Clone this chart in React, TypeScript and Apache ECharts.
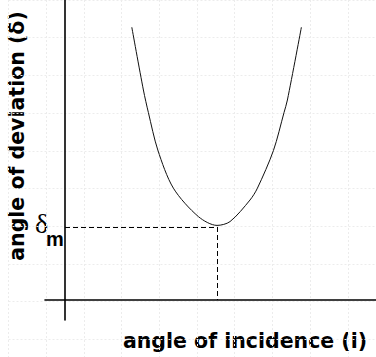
import React, { useEffect, useRef } from "react";
import * as echarts from "echarts";

// angle of incidence (arbitrary units) and deviation values
const incidence = [33.4, 39.2, 41.7, 46.4, 54.2, 66.7, 76, 82.5, 92.5, 96.2, 104.2, 109.5, 111.2, 118.2];
const deviation = [136.4, 105, 93.7, 75, 55.9, 41.7, 37.3, 39.2, 50, 55.9, 74.7, 93.7, 100, 136.4];
const minIncidence = [76.2];
const minDeviation = [36.5];
const xTitle = "angle of incidence (i)";
const yTitle = "angle of deviation (δ)";
const minSymbol = "δ";
const minSub = "m";

export default function App() {
  const ref = useRef<HTMLDivElement>(null);
  useEffect(() => {
    if (!ref.current) return;
    const chart = echarts.init(ref.current, null, { renderer: "svg" });
    const faint = { show: true, lineStyle: { color: "#ececec", type: [2, 2] as any, width: 1 } };
    chart.setOption({
      animation: false,
      grid: [
        { left: 45, right: 0, top: 0, bottom: 37 },
        { left: 8.5, right: 0, top: 0, bottom: 0 },
      ],
      xAxis: [
        {
          gridIndex: 0, type: "value", min: -10, max: 155.5,
          axisLine: { show: true, onZero: true, lineStyle: { color: "#000", width: 1.6 } },
          axisTick: { show: false }, axisLabel: { show: false }, splitLine: { show: false },
        },
        {
          gridIndex: 1, type: "value", min: 0, max: 367.5 / 37.7, interval: 1,
          axisLine: { show: false }, axisTick: { show: false }, axisLabel: { show: false }, splitLine: faint,
        },
      ],
      yAxis: [
        {
          gridIndex: 0, type: "value", min: -10, max: 150,
          axisLine: { show: true, onZero: true, lineStyle: { color: "#000", width: 1.6 } },
          axisTick: { show: false }, axisLabel: { show: false }, splitLine: { show: false },
        },
        {
          gridIndex: 1, type: "value", min: 0, max: 357 / 37.7, interval: 1, inverse: true,
          axisLine: { show: false }, axisTick: { show: false }, axisLabel: { show: false }, splitLine: faint,
        },
      ],
      series: [
        {
          type: "line",
          xAxisIndex: 0, yAxisIndex: 0,
          data: incidence.map((x, i) => [x, deviation[i]]),
          smooth: 0.3,
          showSymbol: false,
          lineStyle: { color: "#111", width: 1 },
          silent: true,
          markLine: {
            silent: true,
            symbol: "none",
            label: { show: false },
            lineStyle: { color: "#000", width: 1, type: [5, 3] as any },
            data: [
              [{ coord: [0, minDeviation[0]] }, { coord: [minIncidence[0], minDeviation[0]] }],
              [{ coord: [minIncidence[0], minDeviation[0]] }, { coord: [minIncidence[0], 0] }],
            ],
          },
        },
      ],
      graphic: [
        {
          type: "text", x: 245, y: 341,
          style: { text: xTitle, font: "bold 20.5px 'DejaVu Sans'", fill: "#000", align: "center", verticalAlign: "middle" },
        },
        {
          type: "text", x: 17, y: 136, rotation: Math.PI / 2,
          style: { text: yTitle, font: "bold 20.5px 'DejaVu Sans'", fill: "#000", align: "center", verticalAlign: "middle" },
        },
        {
          type: "text", x: 35, y: 223,
          style: { text: minSymbol, font: "28px 'Liberation Serif'", fill: "#000", align: "left", verticalAlign: "middle" },
        },
        {
          type: "text", x: 46, y: 239,
          style: { text: minSub, font: "bold 20px 'Liberation Sans'", fill: "#000", align: "left", verticalAlign: "middle" },
        },
      ],
    });
    return () => chart.dispose();
  }, []);
  return <div ref={ref} style={{ width: 376, height: 357, position: "absolute", left: 0, top: 0, background: "#fff" }} />;
}
